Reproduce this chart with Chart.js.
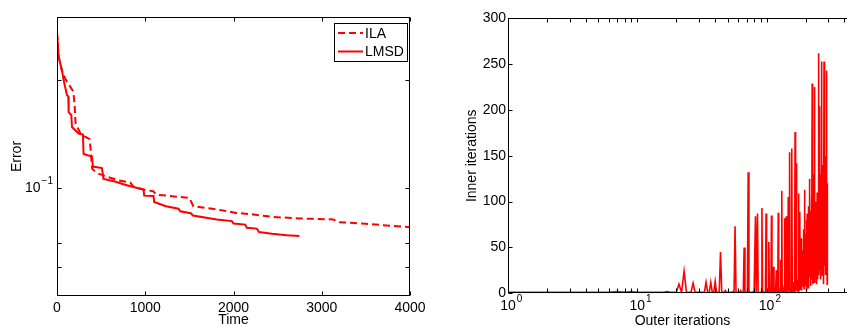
<!DOCTYPE html>
<html>
<head>
<meta charset="utf-8">
<script src="https://cdn.jsdelivr.net/npm/chart.js@4.4.0/dist/chart.umd.min.js"></script>
<style>
  html, body { margin: 0; padding: 0; overflow: hidden; background: #fff; width: 847px; height: 327px; }
  #left { position: absolute; left: 0; top: 0; }
  #right { position: absolute; left: 430px; top: 0; }
</style>
</head>
<body>
<canvas id="left" width="430" height="327"></canvas>
<canvas id="right" width="440" height="327"></canvas>
<script>
// ---- left panel: error vs time ----
const timeTicks = [0, 1000, 2000, 3000, 4000];
const errorMajorTicks = [0.1];
const errorMinorTicks = [0.06, 0.07, 0.2];

const ilaTime = [0, 20, 55, 94, 150, 185, 200, 210, 265, 300, 370, 385, 395, 400, 455, 570, 700, 830, 870, 980, 1090, 1130, 1500, 1545, 1780, 2030, 2200, 2450, 2750, 3130, 3190, 3500, 4000];
const ilaError = [0.272, 0.232, 0.213, 0.202, 0.192, 0.186, 0.17, 0.152, 0.142, 0.140, 0.137, 0.125, 0.115, 0.113, 0.110, 0.1075, 0.105, 0.1035, 0.1006, 0.099, 0.0979, 0.0958, 0.0938, 0.0889, 0.0874, 0.0852, 0.0845, 0.083, 0.0822, 0.0817, 0.0803, 0.0794, 0.0777];

const lmsdTime = [0, 19, 57, 75, 113, 128, 132, 162, 170, 245, 294, 301, 396, 407, 509, 527, 657, 770, 867, 980, 988, 1094, 1101, 1234, 1377, 1396, 1517, 1540, 1811, 1981, 2000, 2132, 2151, 2264, 2290, 2434, 2604, 2747];
const lmsdError = [0.272, 0.232, 0.213, 0.2, 0.182, 0.18, 0.163, 0.16, 0.148, 0.142, 0.141, 0.1245, 0.1224, 0.1148, 0.1137, 0.106, 0.1043, 0.1021, 0.1006, 0.099, 0.0952, 0.095, 0.0914, 0.0889, 0.0875, 0.0861, 0.085, 0.0838, 0.0817, 0.0808, 0.0796, 0.079, 0.0774, 0.077, 0.0753, 0.0745, 0.0738, 0.0734];

// ---- right panel: inner iterations per outer iteration ----
const innerTicks = [0, 50, 100, 150, 200, 250, 300];
const outerMajorTicks = [1, 10, 100];
const outerMinorTicks = [2, 3, 4, 5, 6, 7, 8, 9, 20, 30, 40, 50, 60, 70, 80, 90, 200, 300, 400, 500];
const innerIterations = [
  1, 1, 1, 1, 1, 1, 2, 1, 2, 1,
  1, 1, 1, 1, 1, 1, 2, 1, 1, 1,
  10, 1, 24, 1, 1, 1, 11, 1, 1, 1,
  1, 1, 1, 12, 1, 1, 12, 1, 1, 13,
  1, 1, 1, 45, 1, 1, 1, 3, 1, 1,
  1, 1, 1, 1, 2, 1, 73, 1, 1, 1,
  1, 1, 3, 1, 1, 1, 50, 1, 1, 1,
  1, 132, 1, 1, 1, 1, 1, 1, 2, 1,
  1, 84, 1, 1, 87, 1, 1, 1, 1, 1,
  1, 93, 1, 2, 1, 1, 1, 1, 87, 1,
  1, 1, 2, 56, 1, 1, 3, 1, 85, 1,
  2, 1, 29, 1, 3, 1, 1, 1, 25, 1,
  2, 1, 88, 1, 4, 2, 1, 37, 2, 1,
  112, 1, 3, 5, 1, 2, 1, 82, 1, 3,
  6, 84, 1, 2, 5, 1, 105, 2, 8, 3,
  154, 1, 4, 6, 2, 1, 158, 3, 10, 2,
  5, 12, 3, 1, 8, 176, 4, 2, 142, 6,
  3, 15, 2, 9, 4, 109, 5, 1, 12, 3,
  89, 5, 38, 12, 60, 20, 3, 45, 47, 15,
  30, 8, 70, 25, 5, 113, 40, 12, 55, 18,
  65, 10, 35, 80, 8, 87, 22, 50, 6, 95,
  30, 12, 60, 125, 18, 45, 70, 8, 90, 30,
  55, 105, 15, 40, 229, 20, 75, 10, 60, 130,
  25, 85, 12, 50, 225, 35, 100, 15, 70, 40,
  20, 95, 45, 60, 10, 110, 30, 80, 15, 55,
  262, 20, 110, 40, 204, 70, 25, 170, 50, 130,
  15, 90, 60, 30, 120, 253, 45, 100, 20, 75,
  140, 35, 85, 10, 60, 110, 25, 253, 50, 90,
  30, 140, 65, 100, 20, 150, 40, 80, 243, 55,
  110, 20, 70, 10, 120
];

const FONT = '"Liberation Sans", Arial, sans-serif';
const RED = 'rgb(255,0,0)';

// "10" with a small raised exponent, like matlab log tick labels
function powLabel(ctx, base, exp, x, y, mode) {
  ctx.font = '14px ' + FONT;
  const bw = ctx.measureText(base).width;
  ctx.font = '10px ' + FONT;
  const ew = ctx.measureText(exp).width;
  const x0 = mode === 'right' ? x - bw - ew - 1 : x - bw / 2;
  ctx.textAlign = 'left';
  ctx.textBaseline = 'middle';
  ctx.font = '14px ' + FONT;
  ctx.fillText(base, x0, y);
  ctx.font = '10px ' + FONT;
  ctx.fillText(exp, x0 + bw + 1, y - 7);
}

function axesPlugin(cfg) {
  return {
    id: 'matlabAxes',
    afterDatasetsDraw(chart) {
      const { ctx, chartArea: a } = chart;
      const xs = chart.scales.x, ys = chart.scales.y;
      const L = Math.round(a.left) + 0.5, R = Math.round(a.right) - 0.5;
      const T = Math.round(a.top) + 0.5, B = Math.round(a.bottom) - 0.5;
      const tl = 4;
      ctx.save();
      ctx.strokeStyle = '#000';
      ctx.lineWidth = 1;
      ctx.strokeRect(L, T, R - L, B - T);

      // inside ticks on all four sides
      ctx.beginPath();
      cfg.xTicks.concat(cfg.xMinor || []).forEach(v => {
        const px = Math.round(xs.getPixelForValue(v)) + 0.5;
        ctx.moveTo(px, B); ctx.lineTo(px, B - tl);
        ctx.moveTo(px, T); ctx.lineTo(px, T + tl);
      });
      cfg.yTicks.concat(cfg.yMinor || []).forEach(v => {
        const py = Math.round(ys.getPixelForValue(v)) + 0.5;
        ctx.moveTo(L, py); ctx.lineTo(L + tl, py);
        ctx.moveTo(R, py); ctx.lineTo(R - tl, py);
      });
      ctx.stroke();

      // tick labels
      ctx.fillStyle = '#000';
      cfg.xTicks.forEach((v, i) => {
        const px = xs.getPixelForValue(v);
        if (cfg.xPow) {
          powLabel(ctx, '10', cfg.xPow[i], px, a.bottom + 13, 'center');
        } else {
          ctx.font = '14px ' + FONT;
          ctx.textAlign = 'center';
          ctx.textBaseline = 'middle';
          ctx.fillText(String(v), px, a.bottom + 12);
        }
      });
      cfg.yTicks.forEach((v, i) => {
        const py = ys.getPixelForValue(v);
        if (cfg.yPow) {
          powLabel(ctx, '10', cfg.yPow[i], a.left - 4, py, 'right');
        } else {
          ctx.font = '14px ' + FONT;
          ctx.textAlign = 'right';
          ctx.textBaseline = 'middle';
          ctx.fillText(String(v), a.left - 2, py);
        }
      });

      // axis titles
      ctx.font = '14px ' + FONT;
      ctx.textAlign = 'center';
      ctx.textBaseline = 'middle';
      ctx.fillText(cfg.xTitle, (a.left + a.right) / 2, a.bottom + cfg.xTitleGap);
      ctx.save();
      ctx.translate(cfg.yTitleX, (a.top + a.bottom) / 2);
      ctx.rotate(-Math.PI / 2);
      ctx.fillText(cfg.yTitle, 0, 0);
      ctx.restore();

      // legend box
      if (cfg.legend) {
        const lg = cfg.legend;
        ctx.fillStyle = '#fff';
        ctx.fillRect(lg.x, lg.y, lg.w, lg.h);
        ctx.strokeStyle = '#000';
        ctx.lineWidth = 1;
        ctx.strokeRect(lg.x + 0.5, lg.y + 0.5, lg.w, lg.h);
        chart.data.datasets.forEach((ds, i) => {
          const yy = lg.y + 10 + i * 18.5;
          ctx.strokeStyle = ds.borderColor;
          ctx.lineWidth = 2;
          ctx.setLineDash(ds.borderDash || []);
          ctx.beginPath();
          ctx.moveTo(lg.x + 4, yy);
          ctx.lineTo(lg.x + 29, yy);
          ctx.stroke();
          ctx.setLineDash([]);
          ctx.fillStyle = '#000';
          ctx.textAlign = 'left';
          ctx.font = '14px ' + FONT;
          ctx.fillText(ds.label, lg.x + 31, yy + 1);
        });
      }
      ctx.restore();
    }
  };
}

const toXY = (xs, ys) => xs.map((x, i) => ({ x: x, y: ys[i] }));

new Chart(document.getElementById('left'), {
  type: 'line',
  data: {
    datasets: [{
      label: 'ILA',
      data: toXY(ilaTime, ilaError),
      borderColor: RED,
      borderWidth: 2,
      borderDash: [7, 4],
      pointRadius: 0,
      tension: 0
    }, {
      label: 'LMSD',
      data: toXY(lmsdTime, lmsdError),
      borderColor: RED,
      borderWidth: 2,
      pointRadius: 0,
      tension: 0
    }]
  },
  options: {
    responsive: false,
    animation: false,
    layout: { padding: { left: 57, right: 20, top: 17.3, bottom: 31.3 } },
    plugins: { legend: { display: false }, tooltip: { enabled: false } },
    scales: {
      x: { type: 'linear', min: 0, max: 4000, display: false },
      y: { type: 'logarithmic', min: 0.05, max: 0.3, display: false }
    }
  },
  plugins: [axesPlugin({
    xTicks: timeTicks,
    yTicks: errorMajorTicks,
    yMinor: errorMinorTicks,
    yPow: ['\u22121'],
    xTitle: 'Time',
    xTitleGap: 24,
    yTitle: 'Error',
    yTitleX: 17,
    legend: { x: 334, y: 23, w: 73, h: 38 }
  })]
});

new Chart(document.getElementById('right'), {
  type: 'line',
  data: {
    datasets: [{
      label: 'Inner iterations',
      data: innerIterations.map((v, i) => ({ x: i + 1, y: v })),
      borderColor: RED,
      borderWidth: 1.6,
      pointRadius: 0,
      tension: 0
    }]
  },
  options: {
    responsive: false,
    animation: false,
    layout: { padding: { left: 78, right: 13, top: 18.3, bottom: 33.7 } },
    plugins: { legend: { display: false }, tooltip: { enabled: false } },
    scales: {
      x: { type: 'logarithmic', min: 1, max: 500, display: false },
      y: { type: 'linear', min: 0, max: 300, display: false }
    }
  },
  plugins: [axesPlugin({
    xTicks: outerMajorTicks,
    xMinor: outerMinorTicks,
    xPow: ['0', '1', '2'],
    yTicks: innerTicks,
    xTitle: 'Outer iterations',
    xTitleGap: 28,
    yTitle: 'Inner iterations',
    yTitleX: 42
  })]
});
</script>
</body>
</html>
